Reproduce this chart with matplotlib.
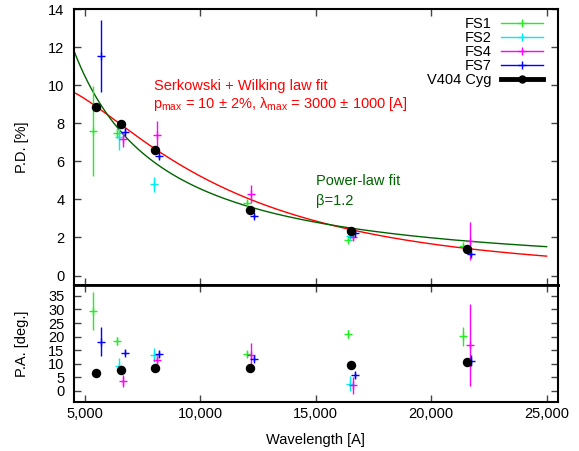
import numpy as np
import matplotlib
matplotlib.use("Agg")
import matplotlib.pyplot as plt
from matplotlib.lines import Line2D
from matplotlib.ticker import FuncFormatter, MultipleLocator

plt.rcParams['font.family'] = ['Liberation Sans', 'DejaVu Sans']
plt.rcParams['mathtext.fontset'] = 'custom'
plt.rcParams['mathtext.rm'] = 'Liberation Sans'

# ---- observations -------------------------------------------------------
fs1_wl = [5330, 6370, 12010, 16390, 21380]
fs1_pd = [7.58, 7.47, 3.79, 1.87, 1.57]
fs1_pd_err = [2.35, 0.25, 0.2, 0.15, 0.15]
fs1_pa = [29.6, 18.4, 13.6, 20.9, 20.1]
fs1_pa_err = [7.0, 1.5, 1.0, 1.5, 3.5]

fs2_wl = [6490, 7975, 16460]
fs2_pd = [7.26, 4.80, 2.09]
fs2_pd_err = [0.65, 0.40, 0.15]
fs2_pa = [9.1, 13.3, 2.7]
fs2_pa_err = [3.0, 2.5, 2.7]

fs4_wl = [6660, 8105, 12210, 16610, 21670]
fs4_pd = [7.15, 7.40, 4.28, 2.00, 1.80]
fs4_pd_err = [0.40, 0.70, 0.45, 0.15, 1.00]
fs4_pa = [3.6, 11.3, 13.4, 2.1, 17.0]
fs4_pa_err = [2.2, 1.5, 4.3, 3.2, 15.0]

fs7_wl = [5680, 6735, 8210, 12310, 16680, 21740]
fs7_pd = [11.52, 7.56, 6.27, 3.14, 2.24, 1.14]
fs7_pd_err = [1.90, 0.20, 0.15, 0.10, 0.10, 0.10]
fs7_pa = [18.2, 14.1, 13.6, 11.9, 5.9, 11.2]
fs7_pa_err = [5.2, 1.0, 1.2, 1.0, 1.0, 2.0]

v404_wl = [5490, 6575, 8050, 12155, 16535, 21565]
v404_pd = [8.85, 7.97, 6.60, 3.44, 2.32, 1.40]
v404_pa = [6.5, 7.8, 8.3, 8.5, 9.5, 10.7]

series_names = ['FS1', 'FS2', 'FS4', 'FS7']
series_colors = ['#22ee22', '#00eeee', '#ff00ff', '#0000ff']

# ---- fit parameters -----------------------------------------------------
p_max = 10.0          # [%]
lam_max = 3500.0      # [A]
pl_amp = 4.55         # [%] at 1 micron
pl_beta = 1.2

lam = np.linspace(4500, 25000, 400)
k_wilking = 1.66 * lam_max / 1e4 + 0.01
serkowski = p_max * np.exp(-k_wilking * np.log(lam_max / lam) ** 2)
power_law = pl_amp * (lam / 1e4) ** (-pl_beta)

FS = 10.5

# ---- figure -------------------------------------------------------------
fig = plt.figure(figsize=(5.79, 4.51), dpi=100)
ax1 = fig.add_axes([0.127, 0.368, 0.837, 0.612])
ax2 = fig.add_axes([0.127, 0.109, 0.837, 0.259], sharex=ax1)

groups = [
    (fs1_wl, fs1_pd, fs1_pd_err, fs1_pa, fs1_pa_err),
    (fs2_wl, fs2_pd, fs2_pd_err, fs2_pa, fs2_pa_err),
    (fs4_wl, fs4_pd, fs4_pd_err, fs4_pa, fs4_pa_err),
    (fs7_wl, fs7_pd, fs7_pd_err, fs7_pa, fs7_pa_err),
]

ax1.plot(lam, serkowski, color='#ff0000', lw=1.0, zorder=2)
ax1.plot(lam, power_law, color='#006400', lw=1.0, zorder=2)

for (wl, pd, pde, pa, pae), col in zip(groups, series_colors):
    ax1.errorbar(wl, pd, yerr=pde, fmt='+', color=col, ms=6, mew=1.0,
                 elinewidth=1.0, capsize=0, zorder=3)
    ax2.errorbar(wl, pa, yerr=pae, fmt='+', color=col, ms=6, mew=1.0,
                 elinewidth=1.0, capsize=0, zorder=3)

ax1.plot(v404_wl, v404_pd, 'o', color='black', ms=5.8, zorder=4)
ax2.plot(v404_wl, v404_pa, 'o', color='black', ms=5.8, zorder=4)

# annotations
ax1.text(8000, 9.95, 'Serkowski + Wilking law fit', color='#ff0000',
         fontsize=FS, va='center', ha='left')
ax1.text(7950, 9.0,
         r'p$_\mathregular{max}$ = 10 ± 2%, λ$_\mathregular{max}$ = 3000 ± 1000 [A]',
         color='#ff0000', fontsize=FS, va='center', ha='left')
ax1.text(15000, 4.97, 'Power-law fit', color='#006400', fontsize=FS,
         va='center', ha='left')
ax1.text(15000, 3.93, 'β=1.2', color='#006400', fontsize=FS,
         va='center', ha='left')

# legend
handles = [Line2D([], [], color=c, lw=1.0, marker='+', ms=6, mew=1.0)
           for c in series_colors]
handles.append(Line2D([], [], color='black', lw=3.5, marker='o', ms=5))
leg = ax1.legend(handles, series_names + ['V404 Cyg'], loc='upper right',
                 bbox_to_anchor=(0.985, 1.0), frameon=False,
                 markerfirst=False, handlelength=2.9, handletextpad=0.6,
                 labelspacing=0.0, fontsize=FS, borderaxespad=0.15)

# axes styling
ax1.set_xlim(4500, 25500)
ax1.set_ylim(-0.5, 14)
ax2.set_ylim(-4, 39)
ax1.yaxis.set_major_locator(MultipleLocator(2))
ax2.yaxis.set_major_locator(MultipleLocator(5))
ax1.xaxis.set_major_locator(MultipleLocator(5000))
ax2.xaxis.set_major_formatter(FuncFormatter(lambda v, p: f'{int(v):,}'))
plt.setp(ax1.get_xticklabels(), visible=False)

for ax in (ax1, ax2):
    ax.tick_params(axis='y', direction='in', length=5, width=1.0,
                   color='#444444', right=True, labelsize=FS, pad=6.5)
    ax.tick_params(axis='x', direction='in', length=5, width=1.0,
                   color='#444444', top=True, labelsize=FS, pad=4)
    for s in ax.spines.values():
        s.set_linewidth(1.5)
ax1.spines['bottom'].set_linewidth(2.0)
ax2.spines['top'].set_linewidth(2.0)

ax1.set_ylabel('P.D. [%]', fontsize=FS)
ax2.set_ylabel('P.A. [deg.]', fontsize=FS)
ax2.set_xlabel('Wavelength [A]', fontsize=FS, labelpad=8)
ax1.yaxis.set_label_coords(-0.092, 0.5)
ax2.yaxis.set_label_coords(-0.092, 0.5)

fig.savefig('out.png', dpi=100)
